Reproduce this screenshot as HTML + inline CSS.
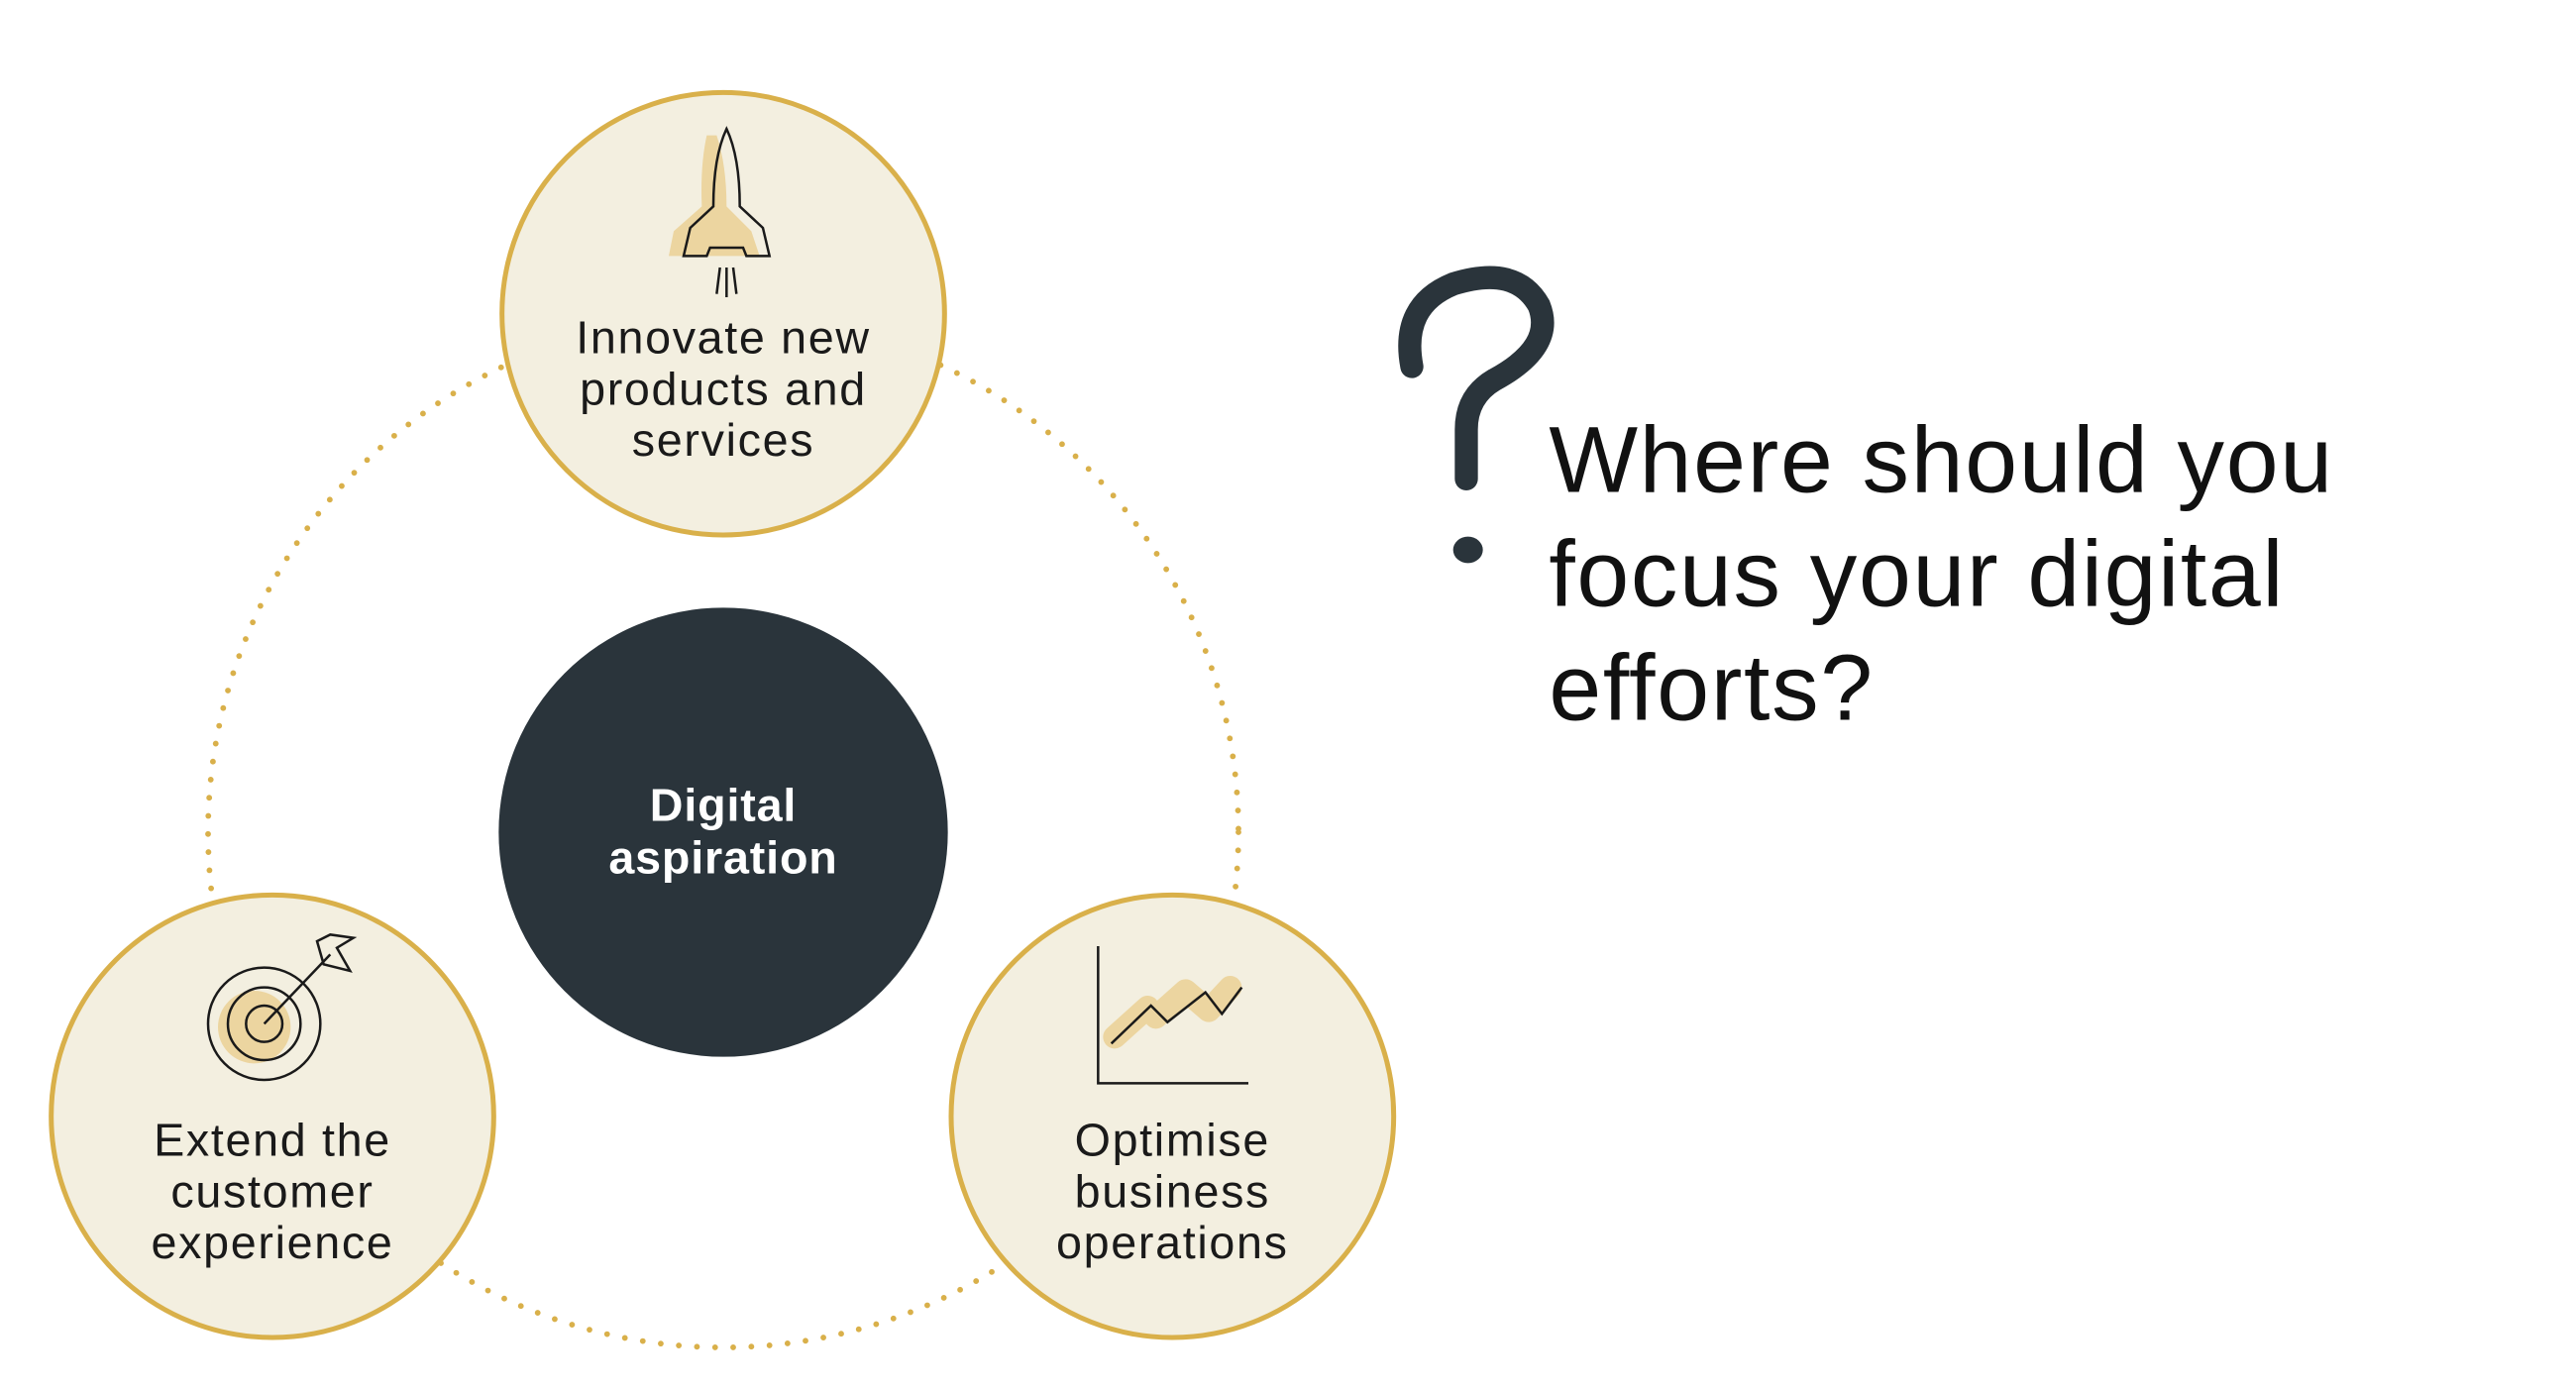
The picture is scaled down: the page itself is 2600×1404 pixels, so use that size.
<!DOCTYPE html>
<html><head><style>
html,body{margin:0;padding:0;background:#fff;}
svg{display:block}
text{font-family:"Liberation Sans",sans-serif;}
</style></head><body>
<svg width="2600" height="1404" viewBox="0 0 1560 842.4" xmlns="http://www.w3.org/2000/svg">
<circle cx="438" cy="504" r="312" fill="none" stroke="#d9b04a" stroke-width="3.5" stroke-dasharray="0 11" stroke-linecap="round"/>
<g fill="#f3efe0" stroke="#d9b04a" stroke-width="3">
<circle cx="438" cy="190" r="134"/>
<circle cx="165" cy="676" r="134"/>
<circle cx="710" cy="676" r="134"/>
</g>
<circle cx="438" cy="504" r="136" fill="#2a343b"/>
<text x="438" y="497" fill="#fff" font-size="28" font-weight="bold" text-anchor="middle" letter-spacing="0.5">Digital</text>
<text x="438" y="529" fill="#fff" font-size="28" font-weight="bold" text-anchor="middle" letter-spacing="0.5">aspiration</text>
<g font-size="28" fill="#1a1a1a" text-anchor="middle" letter-spacing="1">
<text x="438" y="214">Innovate new</text><text x="438" y="245">products and</text><text x="438" y="276">services</text>
<text x="165" y="700">Extend the</text><text x="165" y="731">customer</text><text x="165" y="762">experience</text>
<text x="710" y="700">Optimise</text><text x="710" y="731">business</text><text x="710" y="762">operations</text>
</g>
<!-- rocket -->
<g>
<path d="M428 82 Q424 100 425 125 L408 140 L405 155 L460 155 L455 140 L440 125 Q440 100 434 82Z" fill="#ecd5a0"/>
<path d="M440 78 Q432 95 432 125 L418 138 L414 155 L428 155 L430 150 L450 150 L452 155 L466 155 L462 138 L448 125 Q448 95 440 78Z" fill="none" stroke="#1a1a1a" stroke-width="1.5"/>
<path d="M436 162 L434 178 M440 162 L440 180 M444 162 L446 178" stroke="#1a1a1a" stroke-width="1.5"/>
</g>
<!-- target -->
<g fill="none" stroke="#1a1a1a" stroke-width="1.5">
<circle cx="154" cy="622" r="22" fill="#ecd5a0" stroke="none"/>
<circle cx="160" cy="620" r="34"/>
<circle cx="160" cy="620" r="22"/>
<circle cx="160" cy="620" r="11"/>
<path d="M160 620 L200 578 M192 570 L196 584 L212 588 L204 574 L214 568 L200 566Z"/>
</g>
<!-- chart -->
<g>
<path d="M675 628 L695 610 L700 616 L718 600 L732 612 L745 598" stroke="#ecd5a0" stroke-width="14" stroke-linecap="round" stroke-linejoin="round" fill="none"/>
<path d="M665 573 L665 656 L756 656" stroke="#1a1a1a" stroke-width="1.5" fill="none"/>
<path d="M673 632 L697 609 L707 619 L730 601 L740 614 L752 598" stroke="#1a1a1a" stroke-width="1.5" fill="none"/>
</g>
<!-- question mark -->
<path d="M855 222 Q848 185 880 172 Q918 160 932 185 Q942 210 905 230 Q888 240 888 260 L888 290" fill="none" stroke="#2a343b" stroke-width="14" stroke-linecap="round"/>
<ellipse cx="889" cy="333" rx="9" ry="8" fill="#2a343b"/>
<g font-size="57" fill="#111" letter-spacing="1">
<text x="938" y="298">Where should you</text>
<text x="938" y="367">focus your digital</text>
<text x="938" y="436">efforts?</text>
</g>
</svg>
</body></html>
